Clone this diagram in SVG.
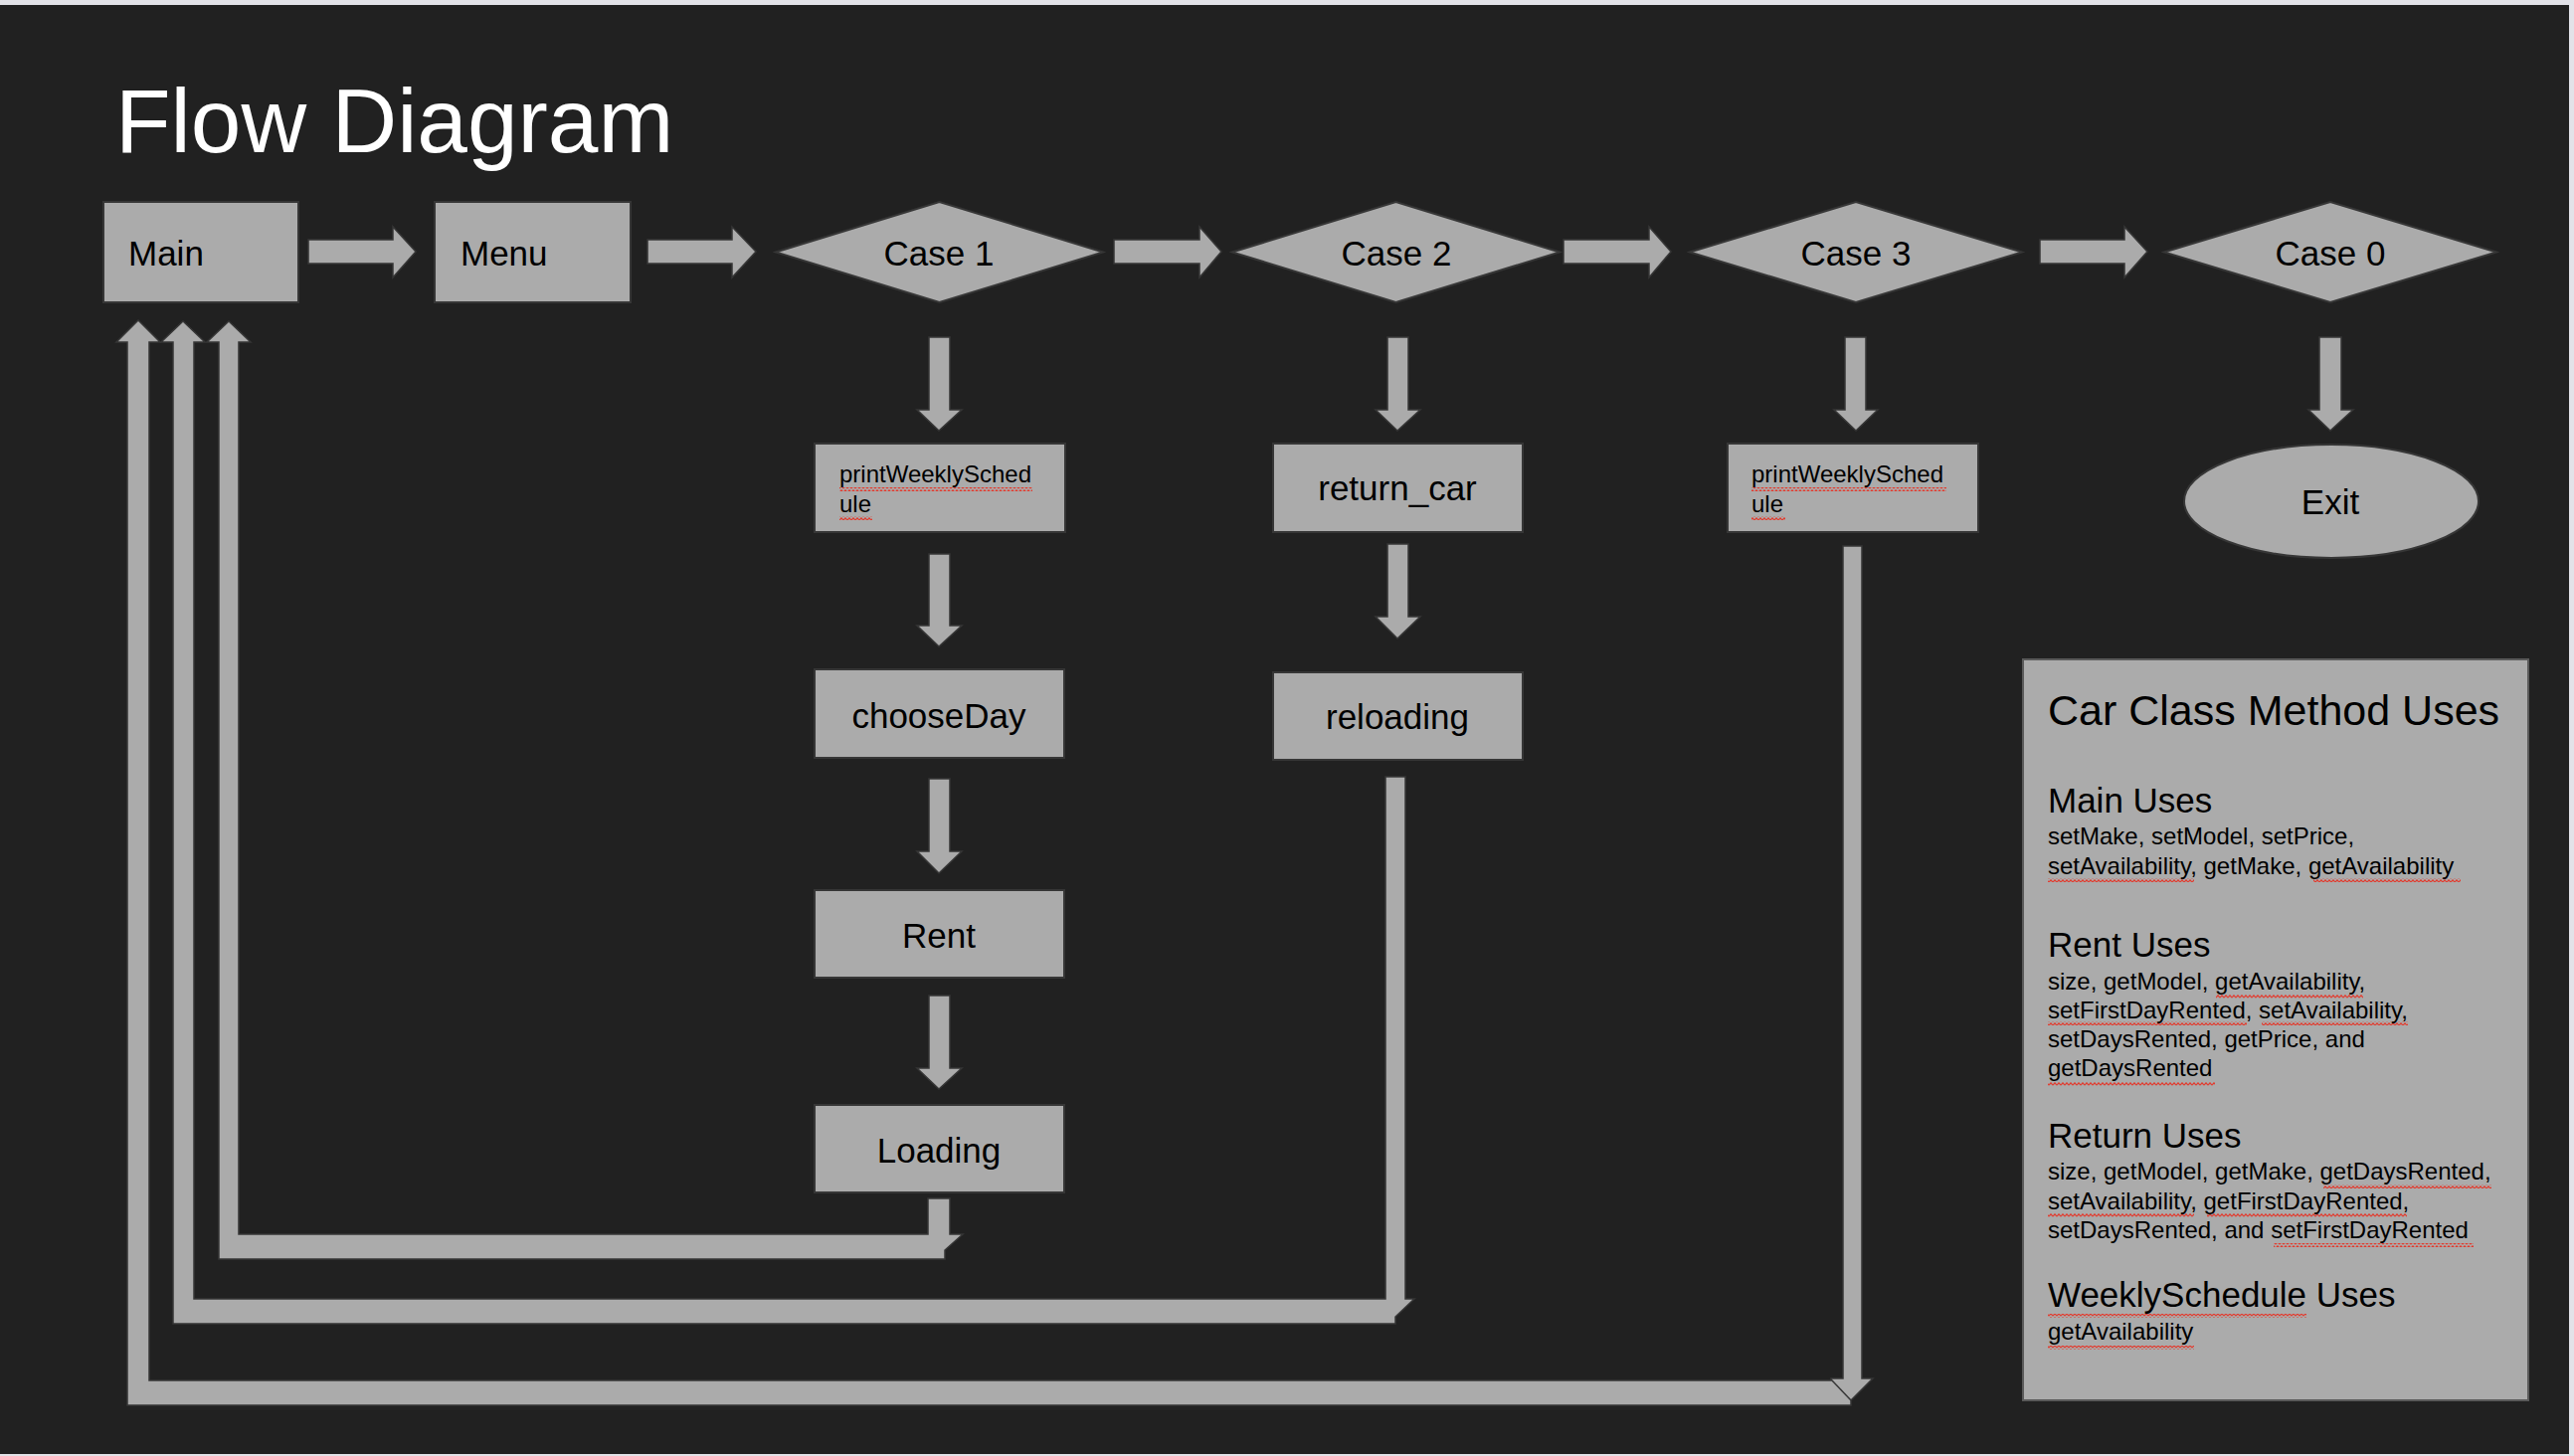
<svg xmlns="http://www.w3.org/2000/svg" width="2588" height="1464" viewBox="0 0 2588 1464">
<defs>
<style>
.sh{fill:#ababab;stroke:#363636;stroke-width:2}
.ar{fill:#ababab;stroke:#363636;stroke-width:1.5;stroke-linejoin:miter}
.t{font-family:"Liberation Sans",Arial,Helvetica,sans-serif;fill:#000}
.lbl{font-size:35px}
.c{text-anchor:middle}
.sm{font-size:24px}
.hd{font-size:35px}
.sq{fill:url(#squig)}
</style>
<pattern id="squig" x="0" y="0" width="4" height="4" patternUnits="userSpaceOnUse">
<path d="M0,3.2 L2,0.8 L4,3.2" fill="none" stroke="#e23b2e" stroke-width="1.2"/>
</pattern>
</defs>
<rect x="0" y="0" width="2588" height="1464" fill="#e2e2e8"/>
<rect x="0" y="5" width="2583" height="1457" fill="#212121"/>
<text x="116" y="153" font-family="Liberation Sans, Arial, sans-serif" font-size="91" fill="#ffffff">Flow Diagram</text>

<g id="connectors">
<path class="ar" d="M310,241 H395 V228 L418,253 L395,279 V265 H310 Z"/>
<path class="ar" d="M651,241 H736 V228 L760,253 L736,279 V265 H651 Z"/>
<path class="ar" d="M1120,241 H1206 V228 L1228,253 L1206,279 V265 H1120 Z"/>
<path class="ar" d="M1572,241 H1658 V228 L1680,253 L1658,279 V265 H1572 Z"/>
<path class="ar" d="M2051,241 H2136 V228 L2159,253 L2136,279 V265 H2051 Z"/>
<path class="ar" d="M934,339 H955 V412 H967 L944,433 L922,412 H934 Z"/>
<path class="ar" d="M1395,339 H1416 V412 H1428 L1405,433 L1383,412 H1395 Z"/>
<path class="ar" d="M1855,339 H1876 V412 H1888 L1866,433 L1844,412 H1855 Z"/>
<path class="ar" d="M2332,339 H2354 V412 H2366 L2343,433 L2321,412 H2332 Z"/>
<path class="ar" d="M934,557 H955 V629 H967 L944,650 L922,629 H934 Z"/>
<path class="ar" d="M934,783 H955 V856 H967 L944,878 L922,856 H934 Z"/>
<path class="ar" d="M934,1001 H955 V1074 H967 L944,1095 L922,1074 H934 Z"/>
<path class="ar" d="M1395,547 H1416 V620 H1428 L1405,642 L1383,620 H1395 Z"/>
<path class="ar" d="M1853,549 H1872 V1386 H1883 L1861,1408 V1413 H128 V344 H117 L139,322 L161,344 H150 V1388 H1841 V1386 H1853 Z"/>
<path d="M1841,1387 L1861,1408" stroke="#363636" stroke-width="1.5" fill="none"/>
<path class="ar" d="M1393,781 H1413 V1306 H1422 L1403,1324 V1331 H174 V344 H162 L184,323 L206,344 H195 V1306 H1393 Z"/>
<path class="ar" d="M933,1205 H955 V1241 H968 L950,1257 V1266 H220 V344 H208 L230,323 L252,344 H240 V1241 H933 Z"/>
</g>

<g id="main"><rect class="sh" x="104" y="203" width="196" height="101"/><text class="t lbl" x="129" y="267">Main</text></g>
<g id="menu"><rect class="sh" x="437" y="203" width="197" height="101"/><text class="t lbl" x="463" y="267">Menu</text></g>
<g id="case1"><polygon class="sh" points="780,253.5 944.5,203 1109,253.5 944.5,304"/><text class="t lbl c" x="944" y="267">Case 1</text></g>
<g id="case2"><polygon class="sh" points="1239,253.5 1403.5,203 1568,253.5 1403.5,304"/><text class="t lbl c" x="1404" y="267">Case 2</text></g>
<g id="case3"><polygon class="sh" points="1699,253.5 1866,203 2033,253.5 1866,304"/><text class="t lbl c" x="1866" y="267">Case 3</text></g>
<g id="case0"><polygon class="sh" points="2176,253.5 2343,203 2510,253.5 2343,304"/><text class="t lbl c" x="2343" y="267">Case 0</text></g>

<g id="printWeekly1"><rect class="sh" x="819" y="446" width="252" height="89"/>
<rect class="sq" x="844" y="490" width="194" height="4"/><rect class="sq" x="844" y="519" width="33" height="4"/>
<text class="t sm" x="844" y="485">printWeeklySched</text><text class="t sm" x="844" y="515">ule</text></g>
<g id="returnCar"><rect class="sh" x="1280" y="446" width="251" height="89"/><text class="t lbl c" x="1405" y="503">return_car</text></g>
<g id="printWeekly3"><rect class="sh" x="1737" y="446" width="252" height="89"/>
<rect class="sq" x="1761" y="490" width="196" height="4"/><rect class="sq" x="1761" y="519" width="34" height="4"/>
<text class="t sm" x="1761" y="485">printWeeklySched</text><text class="t sm" x="1761" y="515">ule</text></g>
<g id="exit"><ellipse class="sh" cx="2344" cy="504" rx="148" ry="57"/><text class="t lbl c" x="2343" y="517">Exit</text></g>
<g id="chooseDay"><rect class="sh" x="819" y="673" width="251" height="89"/><text class="t lbl c" x="944" y="732">chooseDay</text></g>
<g id="reloading"><rect class="sh" x="1280" y="676" width="251" height="88"/><text class="t lbl c" x="1405" y="733">reloading</text></g>
<g id="rent"><rect class="sh" x="819" y="895" width="251" height="88"/><text class="t lbl c" x="944" y="953">Rent</text></g>
<g id="loading"><rect class="sh" x="819" y="1111" width="251" height="88"/><text class="t lbl c" x="944" y="1169">Loading</text></g>

<g id="carClassPanel">
<rect x="2034" y="663" width="508" height="745" fill="#ababab" stroke="#5a5a5a" stroke-width="2"/>
<rect class="sq" x="2059" y="883" width="147" height="4"/><rect class="sq" x="2326" y="883" width="148" height="4"/>
<rect class="sq" x="2228" y="1000" width="148" height="4"/>
<rect class="sq" x="2059" y="1027" width="200" height="4"/><rect class="sq" x="2274" y="1027" width="147" height="4"/>
<rect class="sq" x="2059" y="1088" width="168" height="4"/>
<rect class="sq" x="2336" y="1191" width="169" height="4"/>
<rect class="sq" x="2059" y="1220" width="147" height="4"/><rect class="sq" x="2219" y="1220" width="201" height="4"/>
<rect class="sq" x="2286" y="1250" width="201" height="4"/>
<rect class="sq" x="2059" y="1321" width="260" height="4"/>
<rect class="sq" x="2059" y="1353" width="147" height="4"/>
<text class="t" x="2059" y="729" font-size="43">Car Class Method Uses</text>
<text class="t hd" x="2059" y="817">Main Uses</text>
<text class="t sm" x="2059" y="849">setMake, setModel, setPrice,</text>
<text class="t sm" x="2059" y="879">setAvailability, getMake, getAvailability</text>
<text class="t hd" x="2059" y="962">Rent Uses</text>
<text class="t sm" x="2059" y="995">size, getModel, getAvailability,</text>
<text class="t sm" x="2059" y="1024">setFirstDayRented, setAvailability,</text>
<text class="t sm" x="2059" y="1053">setDaysRented, getPrice, and</text>
<text class="t sm" x="2059" y="1082">getDaysRented</text>
<text class="t hd" x="2059" y="1154">Return Uses</text>
<text class="t sm" x="2059" y="1186">size, getModel, getMake, getDaysRented,</text>
<text class="t sm" x="2059" y="1216">setAvailability, getFirstDayRented,</text>
<text class="t sm" x="2059" y="1245">setDaysRented, and setFirstDayRented</text>
<text class="t hd" x="2059" y="1314">WeeklySchedule Uses</text>
<text class="t sm" x="2059" y="1347">getAvailability</text>
</g>
</svg>
